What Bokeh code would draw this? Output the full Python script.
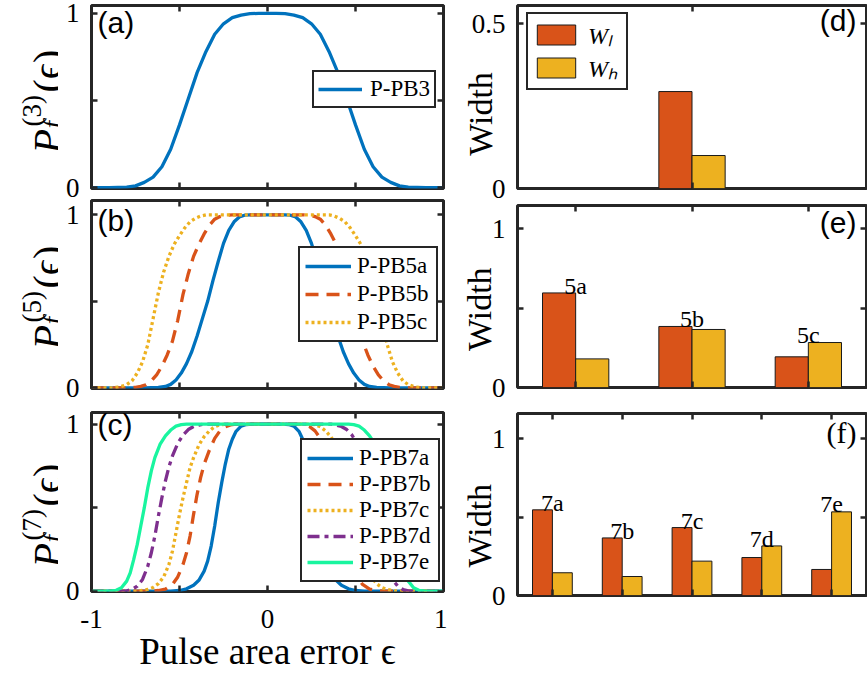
import math
from bokeh.plotting import figure
from bokeh.layouts import row, column
from bokeh.models import (FixedTicker, LinearAxis, Label, Legend, LegendItem,
                          Range1d, ColumnDataSource)
from bokeh.embed import file_html
from bokeh.resources import INLINE
from bokeh.core.properties import value

# ---------------- data ----------------
# (a) P-PB3
eps_3 = [-1.0, -0.9, -0.8, -0.75, -0.7, -0.65, -0.6, -0.55, -0.5, -0.45, -0.4, -0.35, -0.3, -0.25,
         -0.2, -0.15, -0.1, -0.05, 0.0, 0.05, 0.1, 0.15, 0.2, 0.25, 0.3, 0.35, 0.4, 0.45, 0.5,
         0.55, 0.6, 0.65, 0.7, 0.75, 0.8, 0.9, 1.0]
p_3 = [0, 0, 0.003, 0.01, 0.03, 0.06, 0.12, 0.22, 0.36, 0.51, 0.66, 0.78, 0.88, 0.94,
       0.975, 0.99, 0.998, 1.0, 1.0, 1.0, 0.998, 0.99, 0.975, 0.94, 0.88, 0.78, 0.66, 0.51, 0.36,
       0.22, 0.12, 0.06, 0.03, 0.01, 0.003, 0, 0]

# (b) P-PB5a/b/c
eps_5a = [-1.0, -0.7, -0.62, -0.58, -0.55, -0.52, -0.49, -0.46, -0.43, -0.4, -0.37, -0.34, -0.31,
          -0.28, -0.25, -0.22, -0.19, -0.16, -0.13, -0.1, 0.0, 0.1, 0.13, 0.16, 0.19, 0.22, 0.25,
          0.28, 0.31, 0.34, 0.37, 0.4, 0.43, 0.46, 0.49, 0.52, 0.55, 0.58, 0.62, 0.7, 1.0]
p_5a = [0, 0, 0.002, 0.008, 0.02, 0.045, 0.085, 0.14, 0.21, 0.30, 0.40, 0.50, 0.62,
        0.73, 0.835, 0.91, 0.96, 0.988, 0.998, 1.0, 1.0, 1.0, 0.998, 0.988, 0.96, 0.91, 0.835,
        0.73, 0.62, 0.50, 0.40, 0.30, 0.21, 0.14, 0.085, 0.045, 0.02, 0.008, 0.002, 0, 0]

eps_5b = [-1.0, -0.8, -0.75, -0.72, -0.69, -0.66, -0.63, -0.6, -0.57, -0.54, -0.51, -0.48, -0.45,
          -0.42, -0.39, -0.36, -0.33, -0.3, -0.27, -0.24, -0.2, 0.0, 0.2, 0.24, 0.27, 0.3, 0.33,
          0.36, 0.39, 0.42, 0.45, 0.48, 0.51, 0.54, 0.57, 0.6, 0.63, 0.66, 0.69, 0.72, 0.75, 0.8, 1.0]
p_5b = [0, 0, 0.003, 0.008, 0.018, 0.04, 0.075, 0.125, 0.19, 0.27, 0.39, 0.54, 0.66,
        0.76, 0.83, 0.89, 0.94, 0.975, 0.99, 0.998, 1.0, 1.0, 1.0, 0.998, 0.99, 0.975, 0.94,
        0.89, 0.83, 0.76, 0.66, 0.54, 0.39, 0.27, 0.19, 0.125, 0.075, 0.04, 0.018, 0.008, 0.003, 0, 0]

eps_5c = [-1.0, -0.88, -0.84, -0.8, -0.77, -0.74, -0.71, -0.68, -0.65, -0.62, -0.59, -0.56, -0.53,
          -0.5, -0.47, -0.44, -0.41, -0.38, -0.35, 0.0, 0.35, 0.38, 0.41, 0.44, 0.47, 0.5, 0.53,
          0.56, 0.59, 0.62, 0.65, 0.68, 0.71, 0.74, 0.77, 0.8, 0.84, 0.88, 1.0]
p_5c = [0, 0, 0.005, 0.018, 0.04, 0.085, 0.15, 0.25, 0.40, 0.55, 0.67, 0.76, 0.83,
        0.88, 0.925, 0.96, 0.98, 0.993, 1.0, 1.0, 1.0, 0.993, 0.98, 0.96, 0.925, 0.88, 0.83,
        0.76, 0.67, 0.55, 0.40, 0.25, 0.15, 0.085, 0.04, 0.018, 0.005, 0, 0]

# (c) P-PB7a..e
eps_7a = [-1.0, -0.55, -0.5, -0.46, -0.42, -0.39, -0.36, -0.34, -0.32, -0.3, -0.28, -0.26, -0.24,
          -0.22, -0.2, -0.18, -0.15, -0.12, -0.09, 0.0, 0.09, 0.12, 0.15, 0.18, 0.2, 0.22, 0.24,
          0.26, 0.28, 0.3, 0.32, 0.34, 0.36, 0.39, 0.42, 0.46, 0.5, 0.55, 1.0]
p_7a = [0, 0, 0.004, 0.014, 0.035, 0.065, 0.12, 0.18, 0.27, 0.39, 0.53, 0.65, 0.76,
        0.85, 0.91, 0.955, 0.988, 0.998, 1.0, 1.0, 1.0, 0.998, 0.988, 0.955, 0.91, 0.85, 0.76,
        0.65, 0.53, 0.39, 0.27, 0.18, 0.12, 0.065, 0.035, 0.014, 0.004, 0, 0]

eps_7b = [-1.0, -0.66, -0.62, -0.58, -0.54, -0.51, -0.48, -0.46, -0.44, -0.42, -0.4, -0.38, -0.36,
          -0.33, -0.3, -0.27, -0.24, -0.21, -0.18, 0.0, 0.18, 0.21, 0.24, 0.27, 0.3, 0.33, 0.36,
          0.38, 0.4, 0.42, 0.44, 0.46, 0.48, 0.51, 0.54, 0.58, 0.62, 0.66, 1.0]
p_7b = [0, 0, 0.004, 0.012, 0.04, 0.085, 0.16, 0.23, 0.33, 0.46, 0.58, 0.68, 0.76,
        0.845, 0.915, 0.96, 0.985, 0.996, 1.0, 1.0, 1.0, 0.996, 0.985, 0.96, 0.915, 0.845, 0.76,
        0.68, 0.58, 0.46, 0.33, 0.23, 0.16, 0.085, 0.04, 0.012, 0.004, 0, 0]

eps_7c = [-1.0, -0.76, -0.72, -0.68, -0.65, -0.62, -0.59, -0.56, -0.54, -0.52, -0.5, -0.48, -0.46,
          -0.44, -0.42, -0.39, -0.36, -0.33, -0.3, -0.27, -0.24, 0.0, 0.24, 0.27, 0.3, 0.33, 0.36,
          0.39, 0.42, 0.44, 0.46, 0.48, 0.5, 0.52, 0.54, 0.56, 0.59, 0.62, 0.65, 0.68, 0.72, 0.76, 1.0]
p_7c = [0, 0, 0.003, 0.01, 0.022, 0.045, 0.085, 0.16, 0.24, 0.35, 0.46, 0.56, 0.65,
        0.74, 0.80, 0.875, 0.925, 0.96, 0.985, 0.997, 1.0, 1.0, 1.0, 0.997, 0.985, 0.96, 0.925,
        0.875, 0.80, 0.74, 0.65, 0.56, 0.46, 0.35, 0.24, 0.16, 0.085, 0.045, 0.022, 0.01, 0.003, 0, 0]

eps_7d = [-1.0, -0.84, -0.8, -0.77, -0.74, -0.71, -0.68, -0.66, -0.64, -0.62, -0.6, -0.58, -0.56,
          -0.54, -0.51, -0.48, -0.45, -0.42, -0.39, -0.36, 0.0, 0.36, 0.39, 0.42, 0.45, 0.48, 0.51,
          0.54, 0.56, 0.58, 0.6, 0.62, 0.64, 0.66, 0.68, 0.71, 0.74, 0.77, 0.8, 0.84, 1.0]
p_7d = [0, 0, 0.002, 0.01, 0.03, 0.07, 0.15, 0.23, 0.33, 0.45, 0.56, 0.66, 0.745,
        0.81, 0.885, 0.935, 0.968, 0.986, 0.995, 1.0, 1.0, 1.0, 0.995, 0.986, 0.968, 0.935, 0.885,
        0.81, 0.745, 0.66, 0.56, 0.45, 0.33, 0.23, 0.15, 0.07, 0.03, 0.01, 0.002, 0, 0]

eps_7e = [-1.0, -0.9, -0.86, -0.83, -0.8, -0.78, -0.76, -0.74, -0.72, -0.7, -0.68, -0.66, -0.64,
          -0.61, -0.58, -0.55, -0.52, -0.49, -0.46, 0.0, 0.46, 0.49, 0.52, 0.55, 0.58, 0.61, 0.64,
          0.66, 0.68, 0.7, 0.72, 0.74, 0.76, 0.78, 0.8, 0.83, 0.86, 0.9, 1.0]
p_7e = [0, 0, 0.005, 0.02, 0.06, 0.11, 0.19, 0.28, 0.39, 0.50, 0.62, 0.72, 0.80,
        0.88, 0.93, 0.965, 0.988, 0.997, 1.0, 1.0, 1.0, 0.997, 0.988, 0.965, 0.93, 0.88, 0.80,
        0.72, 0.62, 0.50, 0.39, 0.28, 0.19, 0.11, 0.06, 0.02, 0.005, 0, 0]

# (d)-(f) widths
groups_d = ["3"]
wl_d = [0.294]
wh_d = [0.100]

groups_e = ["5a", "5b", "5c"]
wl_e = [0.595, 0.384, 0.193]
wh_e = [0.180, 0.365, 0.283]

groups_f = ["7a", "7b", "7c", "7d", "7e"]
wl_f = [0.546, 0.367, 0.433, 0.242, 0.166]
wh_f = [0.145, 0.121, 0.219, 0.316, 0.533]

# ---------------- style ----------------
FR = "#262626"
SERIF = "Liberation Serif"
SANS = "Liberation Sans"
BLUE, ORANGE, YELLOW, PURPLE, GREEN = "#0072BD", "#D95319", "#EDB120", "#7E2F8E", "#19F59F"
LW = 3.3
TICK_FS = "27px"
NB = "\u00a0"


def add_axis(p, side, ticks, labels=None, standoff=12):
    ax = LinearAxis(ticker=FixedTicker(ticks=ticks))
    ax.axis_line_color = None
    ax.major_tick_in = 6
    ax.major_tick_out = 0
    ax.major_tick_line_color = FR
    ax.major_tick_line_width = 2.5
    ax.minor_tick_line_color = None
    if labels is None:
        ax.major_label_overrides = {t: "" for t in ticks}
        ax.major_label_text_font_size = "0px"
        ax.major_label_standoff = 0
    else:
        ax.major_label_overrides = {t: l for t, l in zip(ticks, labels)}
        ax.major_label_text_font = SERIF
        ax.major_label_text_font_size = TICK_FS
        ax.major_label_text_color = "black"
        ax.major_label_standoff = standoff
    p.add_layout(ax, side)
    return ax


def make_fig(w, h, left, right, top, bottom, xr, yr):
    p = figure(width=w, height=h, x_range=Range1d(*xr), y_range=Range1d(*yr),
               x_axis_type=None, y_axis_type=None, output_backend="svg", toolbar_location=None)
    p.min_border_left = left
    p.min_border_right = right
    p.min_border_top = top
    p.min_border_bottom = bottom
    p.outline_line_color = FR
    p.outline_line_width = 3
    p.outline_line_alpha = 1
    p.grid.visible = False
    p.background_fill_color = "white"
    p.border_fill_color = "white"
    return p


def label_fig(w, h):
    p = figure(frame_width=w, frame_height=h, x_range=Range1d(0, w), y_range=Range1d(0, h),
               x_axis_type=None, y_axis_type=None, output_backend="svg", toolbar_location=None)
    p.min_border = 0
    p.outline_line_color = None
    p.grid.visible = False
    p.background_fill_color = "white"
    p.border_fill_color = "white"
    return p


def lbl(p, x, y, text, size, font=SERIF, style="normal", angle=0.0, align="left", baseline="alphabetic"):
    p.add_layout(Label(x=x, y=y, x_units="screen", y_units="screen", text=text,
                       text_font=font, text_font_size=size, text_font_style=style,
                       text_color="black", angle=angle, text_align=align, text_baseline=baseline))


def ylabel_P(p, n, sx0, sy0):
    a = math.pi / 2
    lbl(p, sx0, sy0, "P", "40px", style="italic", angle=a)
    lbl(p, sx0 + 5, sy0 + 25, "f", "27px", style="italic", angle=a)
    lbl(p, sx0 - 16, sy0 + 27, "(%d)" % n, "27px", angle=a)
    lbl(p, sx0, sy0 + 61, "(\u03f5)", "40px", angle=a)


def make_legend(p, items, loc, glyph_w, pad, standoff, label_w, spacing, fs, italic=False, glyph_h=20):
    lg = Legend(items=items, location=loc, margin=0, padding=pad, spacing=spacing,
                glyph_width=glyph_w, glyph_height=glyph_h, label_standoff=standoff,
                label_width=label_w, label_text_font=SERIF, label_text_font_size=fs,
                label_text_color="black", label_text_font_style="italic" if italic else "normal",
                border_line_color=FR, border_line_width=2.5, border_line_alpha=1,
                background_fill_color="white", background_fill_alpha=1)
    p.add_layout(lg, "center")


XT = [-1, -0.5, 0, 0.5, 1]
YT = [0, 0.5, 1]

# ---------------- left column ----------------
LBW = 58          # width of the y-label strip
LBL, LBR = 33, 4
LFW = 352
LW_FIG = LBL + LFW + LBR
ha, hb, hc = 5 + 183 + 11, 1 + 188 + 17, 7 + 182 + 80
pa = make_fig(LW_FIG, ha, LBL, LBR, 5, 11, (-1, 1), (-0.005, 1.045))
pb = make_fig(LW_FIG, hb, LBL, LBR, 1, 17, (-1, 1), (-0.004, 1.083))
pc = make_fig(LW_FIG, hc, LBL, LBR, 7, 80, (-1, 1), (-0.002, 1.07))

for p in (pa, pb, pc):
    add_axis(p, "left", YT, ["0", "", "1"], standoff=12)
    add_axis(p, "right", YT)
    add_axis(p, "above", XT)
add_axis(pa, "below", XT)
add_axis(pb, "below", XT)
axc = add_axis(pc, "below", XT, ["-1", "", "0", "", "1"], standoff=18)
axc.axis_label = "Pulse area error \u03f5"
axc.axis_label_text_font = SERIF
axc.axis_label_text_font_size = "37px"
axc.axis_label_text_font_style = "normal"
axc.axis_label_text_color = "black"
axc.axis_label_standoff = 0

r3 = pa.line(eps_3, p_3, line_color=BLUE, line_width=LW)
make_legend(pa, [LegendItem(label="P-PB3", renderers=[r3])], (221, 80), 44, 4, 8, 60, 0, "23px")

r5a = pb.line(eps_5a, p_5a, line_color=BLUE, line_width=LW)
r5b = pb.line(eps_5b, p_5b, line_color=ORANGE, line_width=LW, line_dash="13 8")
r5c = pb.line(eps_5c, p_5c, line_color=YELLOW, line_width=LW, line_dash="3 3")
make_legend(pb, [LegendItem(label="P-PB5a", renderers=[r5a]),
                 LegendItem(label="P-PB5b", renderers=[r5b]),
                 LegendItem(label="P-PB5c", renderers=[r5c])], (207, 46), 46, 5, 6, 74, 2, "23px")

r7a = pc.line(eps_7a, p_7a, line_color=BLUE, line_width=LW)
r7b = pc.line(eps_7b, p_7b, line_color=ORANGE, line_width=LW, line_dash="13 8")
r7c = pc.line(eps_7c, p_7c, line_color=YELLOW, line_width=LW, line_dash="3 3")
r7d = pc.line(eps_7d, p_7d, line_color=PURPLE, line_width=LW, line_dash="12 5 4 5")
r7e = pc.line(eps_7e, p_7e, line_color=GREEN, line_width=LW)
make_legend(pc, [LegendItem(label="P-PB7a", renderers=[r7a]),
                 LegendItem(label="P-PB7b", renderers=[r7b]),
                 LegendItem(label="P-PB7c", renderers=[r7c]),
                 LegendItem(label="P-PB7d", renderers=[r7d]),
                 LegendItem(label="P-PB7e", renderers=[r7e])], (209, 9), 46, 5, 6, 74, 0, "23px")

lbl(pa, 6, 183, "(a)", "30px", font=SANS, baseline="top")
lbl(pb, 6, 185, "(b)", "30px", font=SANS, baseline="top")
lbl(pc, 6, 184, "(c)", "30px", font=SANS, baseline="top")

# y-label strips (their own small canvases, left of each panel)
la = label_fig(LBW, ha)
lb = label_fig(LBW, hb)
lc = label_fig(LBW, hc)
ylabel_P(la, 3, 47, 51)
ylabel_P(lb, 5, 47, 57)
ylabel_P(lc, 7, 47, 114)

# ---------------- right column ----------------
RBL, RBR = 70, 1
RW_FIG = 867 - LBW - LW_FIG
pd_ = make_fig(RW_FIG, 200, RBL, RBR, 5, 12, (0.5, 3.5), (0, 0.555))
pe = make_fig(RW_FIG, 206, RBL, RBR, 5, 19, (0.5, 3.5), (0, 1.145))
pf = make_fig(RW_FIG, 268, RBL, RBR, 7, 79, (0.5, 5.5), (0, 1.16))

BW = 0.285


def bars(p, pos, wl, wh, names=None):
    src = ColumnDataSource(dict(
        xl=[x - BW / 2 for x in pos], xh=[x + BW / 2 for x in pos], wl=wl, wh=wh,
        ty=[max(a, b) + 0.045 for a, b in zip(wl, wh)], xc=pos,
        nm=names if names is not None else [""] * len(pos)))
    rl = p.vbar(x="xl", top="wl", bottom=0, width=BW, source=src, fill_color=ORANGE,
                line_color="#1a1a1a", line_width=1)
    rh = p.vbar(x="xh", top="wh", bottom=0, width=BW, source=src, fill_color=YELLOW,
                line_color="#1a1a1a", line_width=1)
    if names is not None:
        p.text(x="xc", y="ty", text="nm", source=src, text_font=value(SERIF),
               text_font_size="24px", text_align="center", text_baseline="alphabetic",
               text_color="black")
    return rl, rh


pos_d = [2]
pos_e = [i + 1 for i in range(len(groups_e))]
pos_f = [i + 1 for i in range(len(groups_f))]

rl, rh = bars(pd_, pos_d, wl_d, wh_d)
bars(pe, pos_e, wl_e, wh_e, groups_e)
bars(pf, pos_f, wl_f, wh_f, groups_f)

ax_d = add_axis(pd_, "left", [0, 0.5], ["0", "0.5"], standoff=12)
add_axis(pd_, "right", [0, 0.5])
add_axis(pd_, "below", pos_d)
add_axis(pd_, "above", pos_d)
ax_e = add_axis(pe, "left", YT, ["0", "", "1"], standoff=12)
ax_f = add_axis(pf, "left", YT, ["0", "", "1"], standoff=12)
for p, pos in ((pe, pos_e), (pf, pos_f)):
    add_axis(p, "right", YT)
    add_axis(p, "below", pos)
    add_axis(p, "above", pos)
for ax, so, pad in ((ax_d, -30, 4), (ax_e, -9, 3), (ax_f, -9, 5)):
    ax.axis_label = "Width" + NB * pad
    ax.axis_label_text_font = SERIF
    ax.axis_label_text_font_size = "34px"
    ax.axis_label_text_font_style = "normal"
    ax.axis_label_text_color = "black"
    ax.axis_label_standoff = so

make_legend(pd_, [LegendItem(label="W\u2097", renderers=[rl]),
                  LegendItem(label="W\u2095", renderers=[rh])], (9, 98), 48, 4, 8, 34, 0,
            "24px", italic=True, glyph_h=25)

FRW = RW_FIG - RBL - RBR - 2
lbl(pd_, FRW - 8, 185, "(d)", "30px", font=SANS, align="right", baseline="top")
lbl(pe, FRW - 8, 182, "(e)", "30px", font=SANS, align="right", baseline="top")
lbl(pf, FRW - 8, 180, "(f)", "30px", font=SERIF, align="right", baseline="top")

left_col = column(row(la, pa), row(lb, pb), row(lc, pc))
right_col = column(pd_, pe, pf)
layout = row(left_col, right_col)
open("out.html", "w").write(file_html(layout, INLINE))
